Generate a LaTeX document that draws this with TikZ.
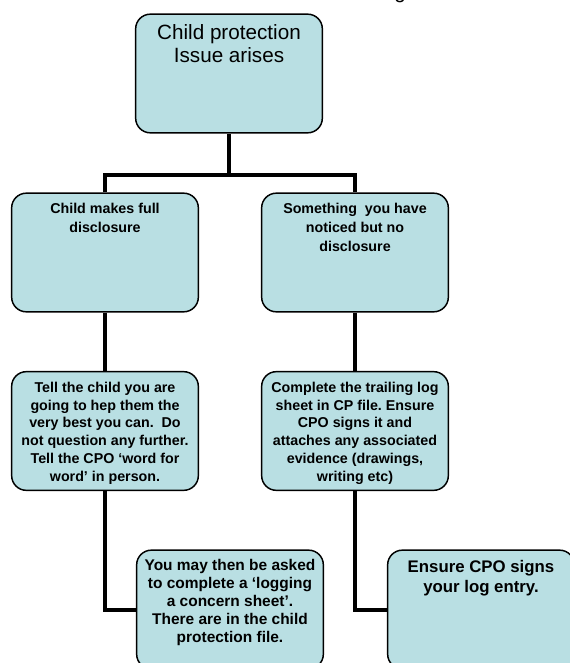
\documentclass[tikz,border=0pt]{standalone}
\usepackage{fontspec}
\setmainfont{Liberation Sans}
\usepackage{tikz}
\usetikzlibrary{positioning}
\definecolor{boxblue}{RGB}{185,223,227}
\frenchspacing

\begin{document}
\begin{tikzpicture}[x=0.75pt, y=-0.75pt,
	box/.style={draw=black, line width=1.1pt, fill=boxblue, rounded corners=11pt, minimum width=140pt, minimum height=89pt, inner sep=0pt},
	boxtext/.style={align=center, inner sep=0pt},
	link/.style={line width=3pt}]
	\useasboundingbox (0,0) rectangle (570,663);
	% title, cut off at the top of the page
	\node[anchor=base, font=\fontsize{15.5}{18}\selectfont] (titleg) at (400,-1) {g};
	% boxes
	\node[box] (issue) at (229,73.5) {};
	\node[box] (full) at (105,252.5) {};
	\node[box] (noticed) at (355,252.5) {};
	\node[box] (tell) at (105,431) {};
	\node[box] (trail) at (355,431) {};
	\node[box] (concern) at (230,609.5) {};
	\node[box] (ensure) at (481,609.5) {};
	% box texts
	\node[boxtext, below=8pt of issue.north, font=\fontsize{15.5}{17.3}\selectfont] (issue-t) {Child protection\\Issue arises};
	\node[boxtext, below=8pt of full.north, font=\fontsize{10.7}{14.2}\selectfont\bfseries] (full-t) {Child makes full\\disclosure};
	\node[boxtext, below=8pt of noticed.north, font=\fontsize{10.7}{14.2}\selectfont\bfseries] (noticed-t) {Something\ \ you have\\noticed but no\\disclosure};
	\node[boxtext, below=8pt of tell.north, font=\fontsize{10.7}{13.4}\selectfont\bfseries] (tell-t) {Tell the child you are\\going to hep them the\\very best you can.\ \ Do\\not question any further.\\Tell the CPO ‘word for\\word’ in person.};
	\node[boxtext, below=8pt of trail.north, font=\fontsize{10.7}{13.4}\selectfont\bfseries] (trail-t) {Complete the trailing log\\sheet in CP file. Ensure\\CPO signs it and\\attaches any associated\\evidence (drawings,\\writing etc)};
	\node[boxtext, below=7pt of concern.north, font=\fontsize{11.6}{13.5}\selectfont\bfseries] (concern-t) {You may then be asked\\to complete a ‘logging\\a concern sheet’.\\There are in the child\\protection file.};
	\node[boxtext, below=8pt of ensure.north, font=\fontsize{12.6}{15}\selectfont\bfseries] (ensure-t) {Ensure CPO signs\\your log entry.};
	% connectors
	\coordinate (split) at (229,175);
	\draw[link] (issue.south) -- (split);
	\draw[link] (full.north) |- (split) -| (noticed.north);
	\draw[link] (full) -- (tell);
	\draw[link] (noticed) -- (trail);
	\draw[link] (tell.south) |- (concern.west);
	\draw[link] (trail.south) |- (ensure.west);
\end{tikzpicture}
\end{document}
